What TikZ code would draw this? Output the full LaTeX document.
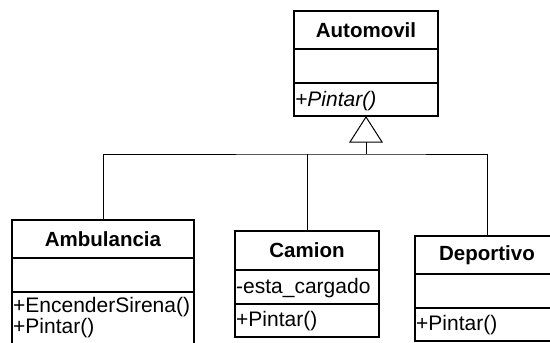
\documentclass[tikz,border=0pt]{standalone}
\usepackage{fontspec}
\setmainfont{Liberation Sans}
\begin{document}
\begin{tikzpicture}[x=1pt,y=-1pt,
  compart/.style={draw=black,line width=2pt,anchor=north west,inner sep=0pt,
    minimum width=#1},
  title/.style={font=\fontsize{20.5}{22}\selectfont\bfseries},
  member/.style={anchor=west,inner sep=0pt,align=left,
    font=\fontsize{21}{22}\selectfont},
  link/.style={draw=black,line width=1pt}]
\useasboundingbox (0,0) rectangle (550,343);
\clip (0,0) rectangle (550,343);
\fill[white] (0,0) rectangle (550,343);

% Automovil
\node[compart=144pt,minimum height=38pt] (autoT) at (293,10) {};
\node[compart=144pt,minimum height=34pt] (autoA) at (293,48) {};
\node[compart=144pt,minimum height=33pt] (autoM) at (293,82) {};
\node[title] (autoTt) at (autoT.center) {Automovil};
\node[member] (autoMt) at ([xshift=2pt,yshift=-2pt]autoM.west) {\itshape +Pintar()};

% Ambulancia
\node[compart=182pt,minimum height=38pt] (ambT) at (11,219) {};
\node[compart=182pt,minimum height=34pt] (ambA) at (11,257) {};
\node[compart=182pt,minimum height=60pt] (ambM) at (11,291) {};
\node[title] (ambTt) at (ambT.center) {Ambulancia};
\node[member] (ambM1) at (13,307) {+EncenderSirena()};
\node[member] (ambM2) at (13,328) {+Pintar()};

% Camion
\node[compart=144pt,minimum height=39pt] (camT) at (234,230) {};
\node[compart=144pt,minimum height=34pt] (camA) at (234,269) {};
\node[compart=144pt,minimum height=33pt] (camM) at (234,303) {};
\node[title] (camTt) at (camT.center) {Camion};
\node[member] (camAt) at ([xshift=2pt,yshift=-1pt]camA.west) {-esta\_cargado};
\node[member] (camMt) at ([xshift=2pt,yshift=-1pt]camM.west) {+Pintar()};

% Deportivo
\node[compart=144pt,minimum height=38pt] (depT) at (414,235) {};
\node[compart=144pt,minimum height=34pt] (depA) at (414,273) {};
\node[compart=144pt,minimum height=33pt] (depM) at (414,307) {};
\node[title] (depTt) at (depT.center) {Deportivo};
\node[member] (depMt) at ([xshift=2pt,yshift=-1pt]depM.west) {+Pintar()};

% generalization tree
\coordinate (apex) at (autoM.south);
\coordinate (tribase) at ([yshift=-25pt]apex);
\coordinate (fork) at ([yshift=-37pt]apex);
\draw[link,fill=white] (apex) -- ([xshift=-16pt]tribase) -- ([xshift=16pt]tribase) -- cycle;
\draw[link] (tribase) -- (fork);
\draw[link] (ambT.north) |- (fork) -| (depT.north);
\draw[link] (camT.north) -- (camT.north |- fork);
\end{tikzpicture}
\end{document}
